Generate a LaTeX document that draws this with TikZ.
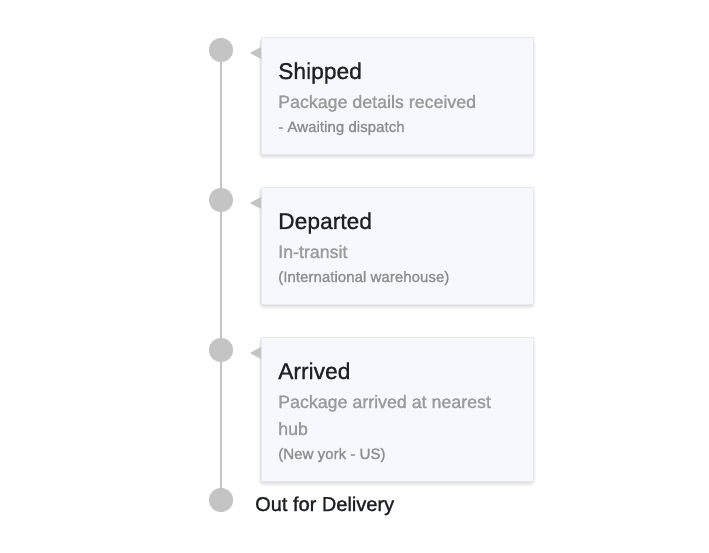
\documentclass[tikz,border=0pt]{standalone}
\usepackage{fontspec}
\setmainfont{Liberation Sans}
\newfontfamily\medfont[FakeBold=1.3]{Liberation Sans}
\newfontfamily\semfont[FakeBold=0.9]{Liberation Sans}
\definecolor{dotc}{HTML}{C4C4C4}
\definecolor{cardfill}{HTML}{F7F8FD}
\definecolor{cardline}{HTML}{E6E8F0}
\definecolor{titlec}{HTML}{1F2124}
\definecolor{subc}{HTML}{9A9A9A}
\definecolor{smallc}{HTML}{8E8E8E}
\tikzset{
  dot/.style={circle,fill=dotc,minimum size=24pt,inner sep=0pt},
  card/.style={draw=cardline,line width=0.8pt,fill=cardfill,anchor=north west,
     inner sep=0pt,minimum width=272pt},
  ttl/.style={anchor=base west,inner sep=0pt,text=titlec,font=\semfont\fontsize{22.8}{26}\selectfont},
  sub/.style={anchor=base west,inner sep=0pt,text=subc,font=\medfont\fontsize{17.8}{20}\selectfont},
  sml/.style={anchor=base west,inner sep=0pt,text=smallc,font=\medfont\fontsize{15.1}{16}\selectfont},
  tip/.style={fill=dotc,draw=none},
  shade layer/.style={fill=black,opacity=0.025,draw=none}
}
\newcommand{\softshadow}[4]{% x1 y1 x2 y2
  \foreach \k in {1,...,6}{
    \fill[shade layer,rounded corners=\k pt] (#1+1-\k*0.6,#2+2-\k*0.3) rectangle (#3-1+\k*0.6,#4+\k*0.9);
  }}
\begin{document}
\begin{tikzpicture}[x=1pt,y=-1pt]
\useasboundingbox (0,0) rectangle (709,553);
\fill[white] (0,0) rectangle (709,553);
% dots
\node[dot] (d1) at (221,50) {};
\node[dot] (d2) at (221,200) {};
\node[dot] (d3) at (221,350) {};
\node[dot] (d4) at (221,500) {};
\draw[dotc,line width=2pt] (d1.center) -- (d4.center);
\node[dot] at (d1) {};
\node[dot] at (d2) {};
\node[dot] at (d3) {};
\node[dot] at (d4) {};
% shadows
\softshadow{261}{37}{533}{154}
\softshadow{261}{187}{533}{304}
\softshadow{261}{337}{533}{481}
% cards
\node[card,minimum height=117pt] (c1) at (261,37) {};
\node[card,minimum height=117pt] (c2) at (261,187) {};
\node[card,minimum height=144pt] (c3) at (261,337) {};
% pointer triangles
\fill[tip] (250,53) -- (261,47) -- (261,59) -- cycle;
\fill[tip] (250,203) -- (261,197) -- (261,209) -- cycle;
\fill[tip] (250,353) -- (261,347) -- (261,359) -- cycle;
% texts
\node[ttl] (t1) at (278,79) {Shipped};
\node[sub] (s1) at (278,108) {Package details received};
\node[sml] (m1) at (278,132) {- Awaiting dispatch};
\node[ttl] (t2) at (278,229) {Departed};
\node[sub] (s2) at (278,258) {In-transit};
\node[sml] (m2) at (278,282) {(International warehouse)};
\node[ttl] (t3) at (278,379) {Arrived};
\node[sub] (s3) at (278,408) {Package arrived at nearest};
\node[sub] (s3b) at (278,435) {hub};
\node[sml] (m3) at (278,459) {(New york - US)};
\node[anchor=base west,inner sep=0pt,text=titlec,font=\medfont\fontsize{20}{22}\selectfont] (od) at (255,511) {Out for Delivery};
\end{tikzpicture}
\end{document}
